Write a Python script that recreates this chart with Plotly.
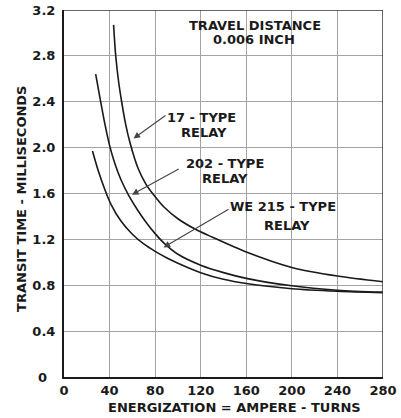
import plotly.graph_objects as go

# Energization (ampere-turns) and transit time (ms)
x_17 = [43.5, 45.4, 48, 50.6, 54, 58, 65, 72, 78.6, 88, 100, 115, 130, 160, 200, 240, 280]
t_17 = [3.07, 2.80, 2.57, 2.40, 2.21, 2.04, 1.82, 1.68, 1.59, 1.48, 1.38, 1.29, 1.22, 1.09, 0.955, 0.88, 0.83]

x_202 = [27.8, 32, 36, 40, 45, 50, 57, 65, 72, 80, 88, 100, 120, 140, 160, 200, 240, 280]
t_202 = [2.64, 2.41, 2.20, 2.02, 1.85, 1.72, 1.58, 1.45, 1.35, 1.25, 1.165, 1.07, 0.975, 0.91, 0.86, 0.795, 0.757, 0.74]

x_215 = [25, 30, 36, 41, 50, 60, 70, 80, 90, 100, 120, 140, 160, 200, 240, 280]
t_215 = [1.97, 1.80, 1.63, 1.51, 1.36, 1.245, 1.16, 1.095, 1.04, 0.992, 0.91, 0.852, 0.815, 0.77, 0.748, 0.735]

x_ticks = [0, 40, 80, 120, 160, 200, 240, 280]
y_ticks = [0.4, 0.8, 1.2, 1.6, 2.0, 2.4, 2.8, 3.2]
y_ticktext = ["0.4", "0.8", "1.2", "1.6", "2.0", "2.4", "2.8", "3.2"]

FONT = "DejaVu Sans"
INK = "#1a1a1a"

fig = go.Figure()
for xs, ts in [(x_17, t_17), (x_202, t_202), (x_215, t_215)]:
    fig.add_trace(go.Scatter(x=xs, y=ts, mode="lines",
                             line=dict(color=INK, width=1.6, shape="spline", smoothing=0.8),
                             showlegend=False, hoverinfo="skip"))

fig.update_xaxes(range=[0, 280], tickvals=x_ticks, showgrid=True, gridcolor="#a3a3a3", gridwidth=1,
                 showline=True, linecolor=INK, linewidth=2, zeroline=False, ticks="",
                 automargin=False,
                 tickfont=dict(family=FONT, size=13, color=INK, weight="bold"))
fig.update_yaxes(range=[0, 3.2], tickvals=y_ticks, ticktext=y_ticktext, showgrid=True,
                 gridcolor="#a3a3a3", gridwidth=1, showline=True, linecolor=INK, linewidth=2,
                 zeroline=False, ticks="", ticklabelstandoff=4, automargin=False,
                 tickfont=dict(family=FONT, size=13, color=INK, weight="bold"))

# top / right frame
fig.add_shape(type="line", xref="x", yref="y", x0=0, x1=280, y0=3.2, y1=3.2,
              line=dict(color="#333", width=1.5))
fig.add_shape(type="line", xref="x", yref="y", x0=280, x1=280, y0=0, y1=3.2,
              line=dict(color="#333", width=1.5))

tf = dict(family=FONT, size=13, color=INK, weight="bold")
texts = [
    ("TRAVEL DISTANCE", 167.7, 3.065),
    ("0.006 INCH", 166.5, 2.94),
    ("17 - TYPE", 120.4, 2.26),
    ("RELAY", 122.5, 2.13),
    ("202 - TYPE", 141.4, 1.865),
    ("RELAY", 141.4, 1.73),
    ("WE 215 - TYPE", 192, 1.49),
    ("RELAY", 195.4, 1.325),
]
for t, x, y in texts:
    fig.add_annotation(text=t, x=x, y=y, xref="x", yref="y", showarrow=False, font=tf,
                       xanchor="center", yanchor="middle")

arrows = [(61, 2.08, 90.4, 2.29), (59.7, 1.59, 102, 1.82), (87.4, 1.13, 145.8, 1.47)]
for x, y, ax, ay in arrows:
    fig.add_annotation(text="", x=x, y=y, ax=ax, ay=ay, xref="x", yref="y", axref="x", ayref="y",
                       showarrow=True, arrowhead=2, arrowsize=1.2, arrowwidth=1.1, arrowcolor="#444")

# y-axis zero label
fig.add_annotation(text="0", xref="paper", yref="paper", x=-0.068, y=0.0, showarrow=False,
                   font=dict(family=FONT, size=13, color=INK, weight="bold"), xanchor="center", yanchor="middle")

# axis titles
fig.add_annotation(text="ENERGIZATION = AMPERE - TURNS", xref="paper", yref="paper",
                   x=0.535, y=-0.082, showarrow=False, font=tf, xanchor="center", yanchor="middle")
fig.add_annotation(text="TRANSIT TIME - MILLISECONDS", xref="paper", yref="paper",
                   x=-0.135, y=0.485, textangle=-90, showarrow=False, font=tf,
                   xanchor="center", yanchor="middle")

fig.update_layout(width=401, height=418, margin=dict(l=64, r=18, t=10, b=41, autoexpand=False),
                  paper_bgcolor="white", plot_bgcolor="white")
fig.write_html("out.html", config={"displayModeBar": False},
               post_script="document.body.style.margin='0';document.body.style.overflow='hidden';")
